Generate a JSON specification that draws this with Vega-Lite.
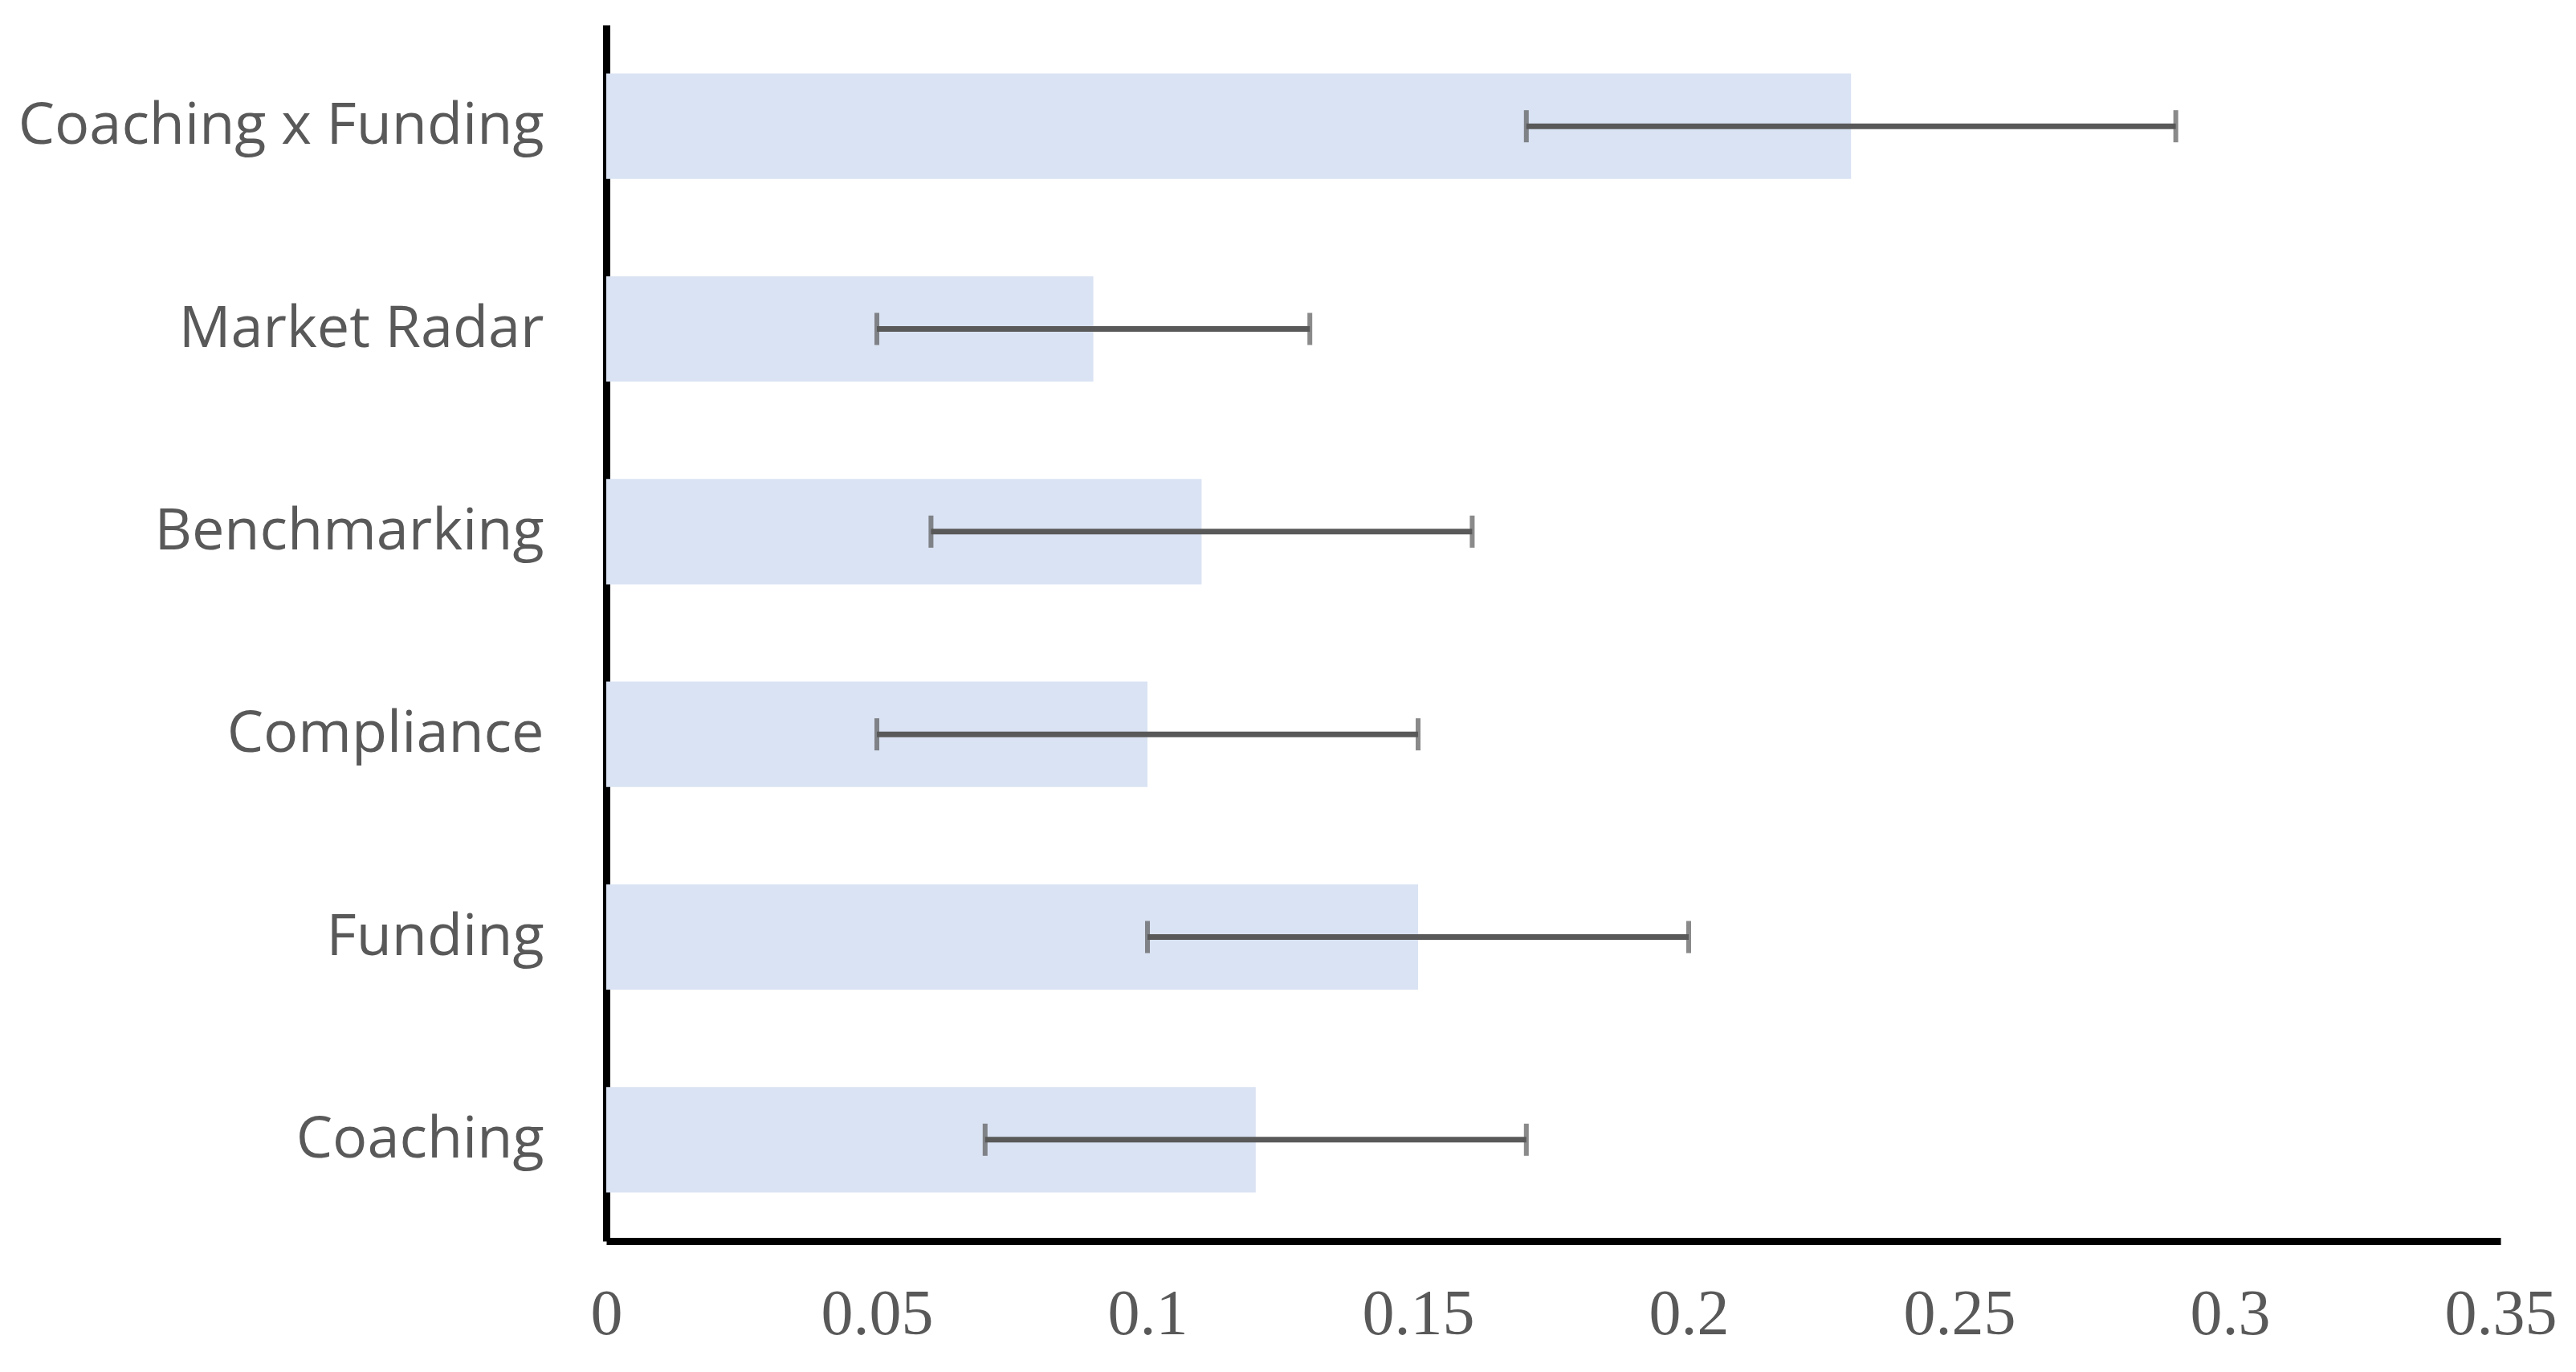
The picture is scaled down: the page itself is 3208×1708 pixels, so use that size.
{
  "$schema": "https://vega.github.io/schema/vega-lite/v6.json",
  "autosize": "none",
  "width": 2359,
  "height": 1514,
  "padding": {"left": 755, "top": 31, "right": 94, "bottom": 163},
  "background": "white",
  "config": {"view": {"stroke": null}},
  "data": {
    "values": [
      {"category": "Coaching x Funding", "value": 0.23, "low": 0.17, "high": 0.29},
      {"category": "Market Radar", "value": 0.09, "low": 0.05, "high": 0.13},
      {"category": "Benchmarking", "value": 0.11, "low": 0.06, "high": 0.16},
      {"category": "Compliance", "value": 0.10, "low": 0.05, "high": 0.15},
      {"category": "Funding", "value": 0.15, "low": 0.10, "high": 0.20},
      {"category": "Coaching", "value": 0.12, "low": 0.07, "high": 0.17}
    ]
  },
  "encoding": {
    "y": {
      "field": "category",
      "type": "nominal",
      "sort": null,
      "scale": {"paddingInner": 0.48, "paddingOuter": 0.24},
      "axis": {
        "title": null,
        "ticks": false,
        "domainColor": "black",
        "domainWidth": 9,
        "labelFont": "Open Sans",
        "labelFontSize": 72,
        "labelColor": "#595959",
        "labelPadding": 78,
        "labelLimit": 1000
      }
    }
  },
  "layer": [
    {
      "mark": {"type": "bar", "color": "#DAE3F3"},
      "encoding": {
        "x": {
          "field": "value",
          "type": "quantitative",
          "scale": {"domain": [0, 0.35], "nice": false},
          "axis": {
            "title": null,
            "ticks": false,
            "grid": false,
            "values": [0, 0.05, 0.1, 0.15, 0.2, 0.25, 0.3, 0.35],
            "format": "~g",
            "domainColor": "black",
            "domainWidth": 9,
            "labelFont": "Liberation Serif",
            "labelFontSize": 80,
            "labelColor": "#595959",
            "labelPadding": 52,
            "labelFlush": false,
            "labelOverlap": false
          }
        }
      }
    },
    {
      "mark": {"type": "rule", "color": "#595959", "strokeWidth": 7},
      "encoding": {
        "x": {"field": "low", "type": "quantitative"},
        "x2": {"field": "high"}
      }
    },
    {
      "mark": {"type": "tick", "color": "#595959", "size": 40, "thickness": 6, "orient": "vertical"},
      "encoding": {"x": {"field": "low", "type": "quantitative"}}
    },
    {
      "mark": {"type": "tick", "color": "#595959", "size": 40, "thickness": 6, "orient": "vertical"},
      "encoding": {"x": {"field": "high", "type": "quantitative"}}
    }
  ]
}
